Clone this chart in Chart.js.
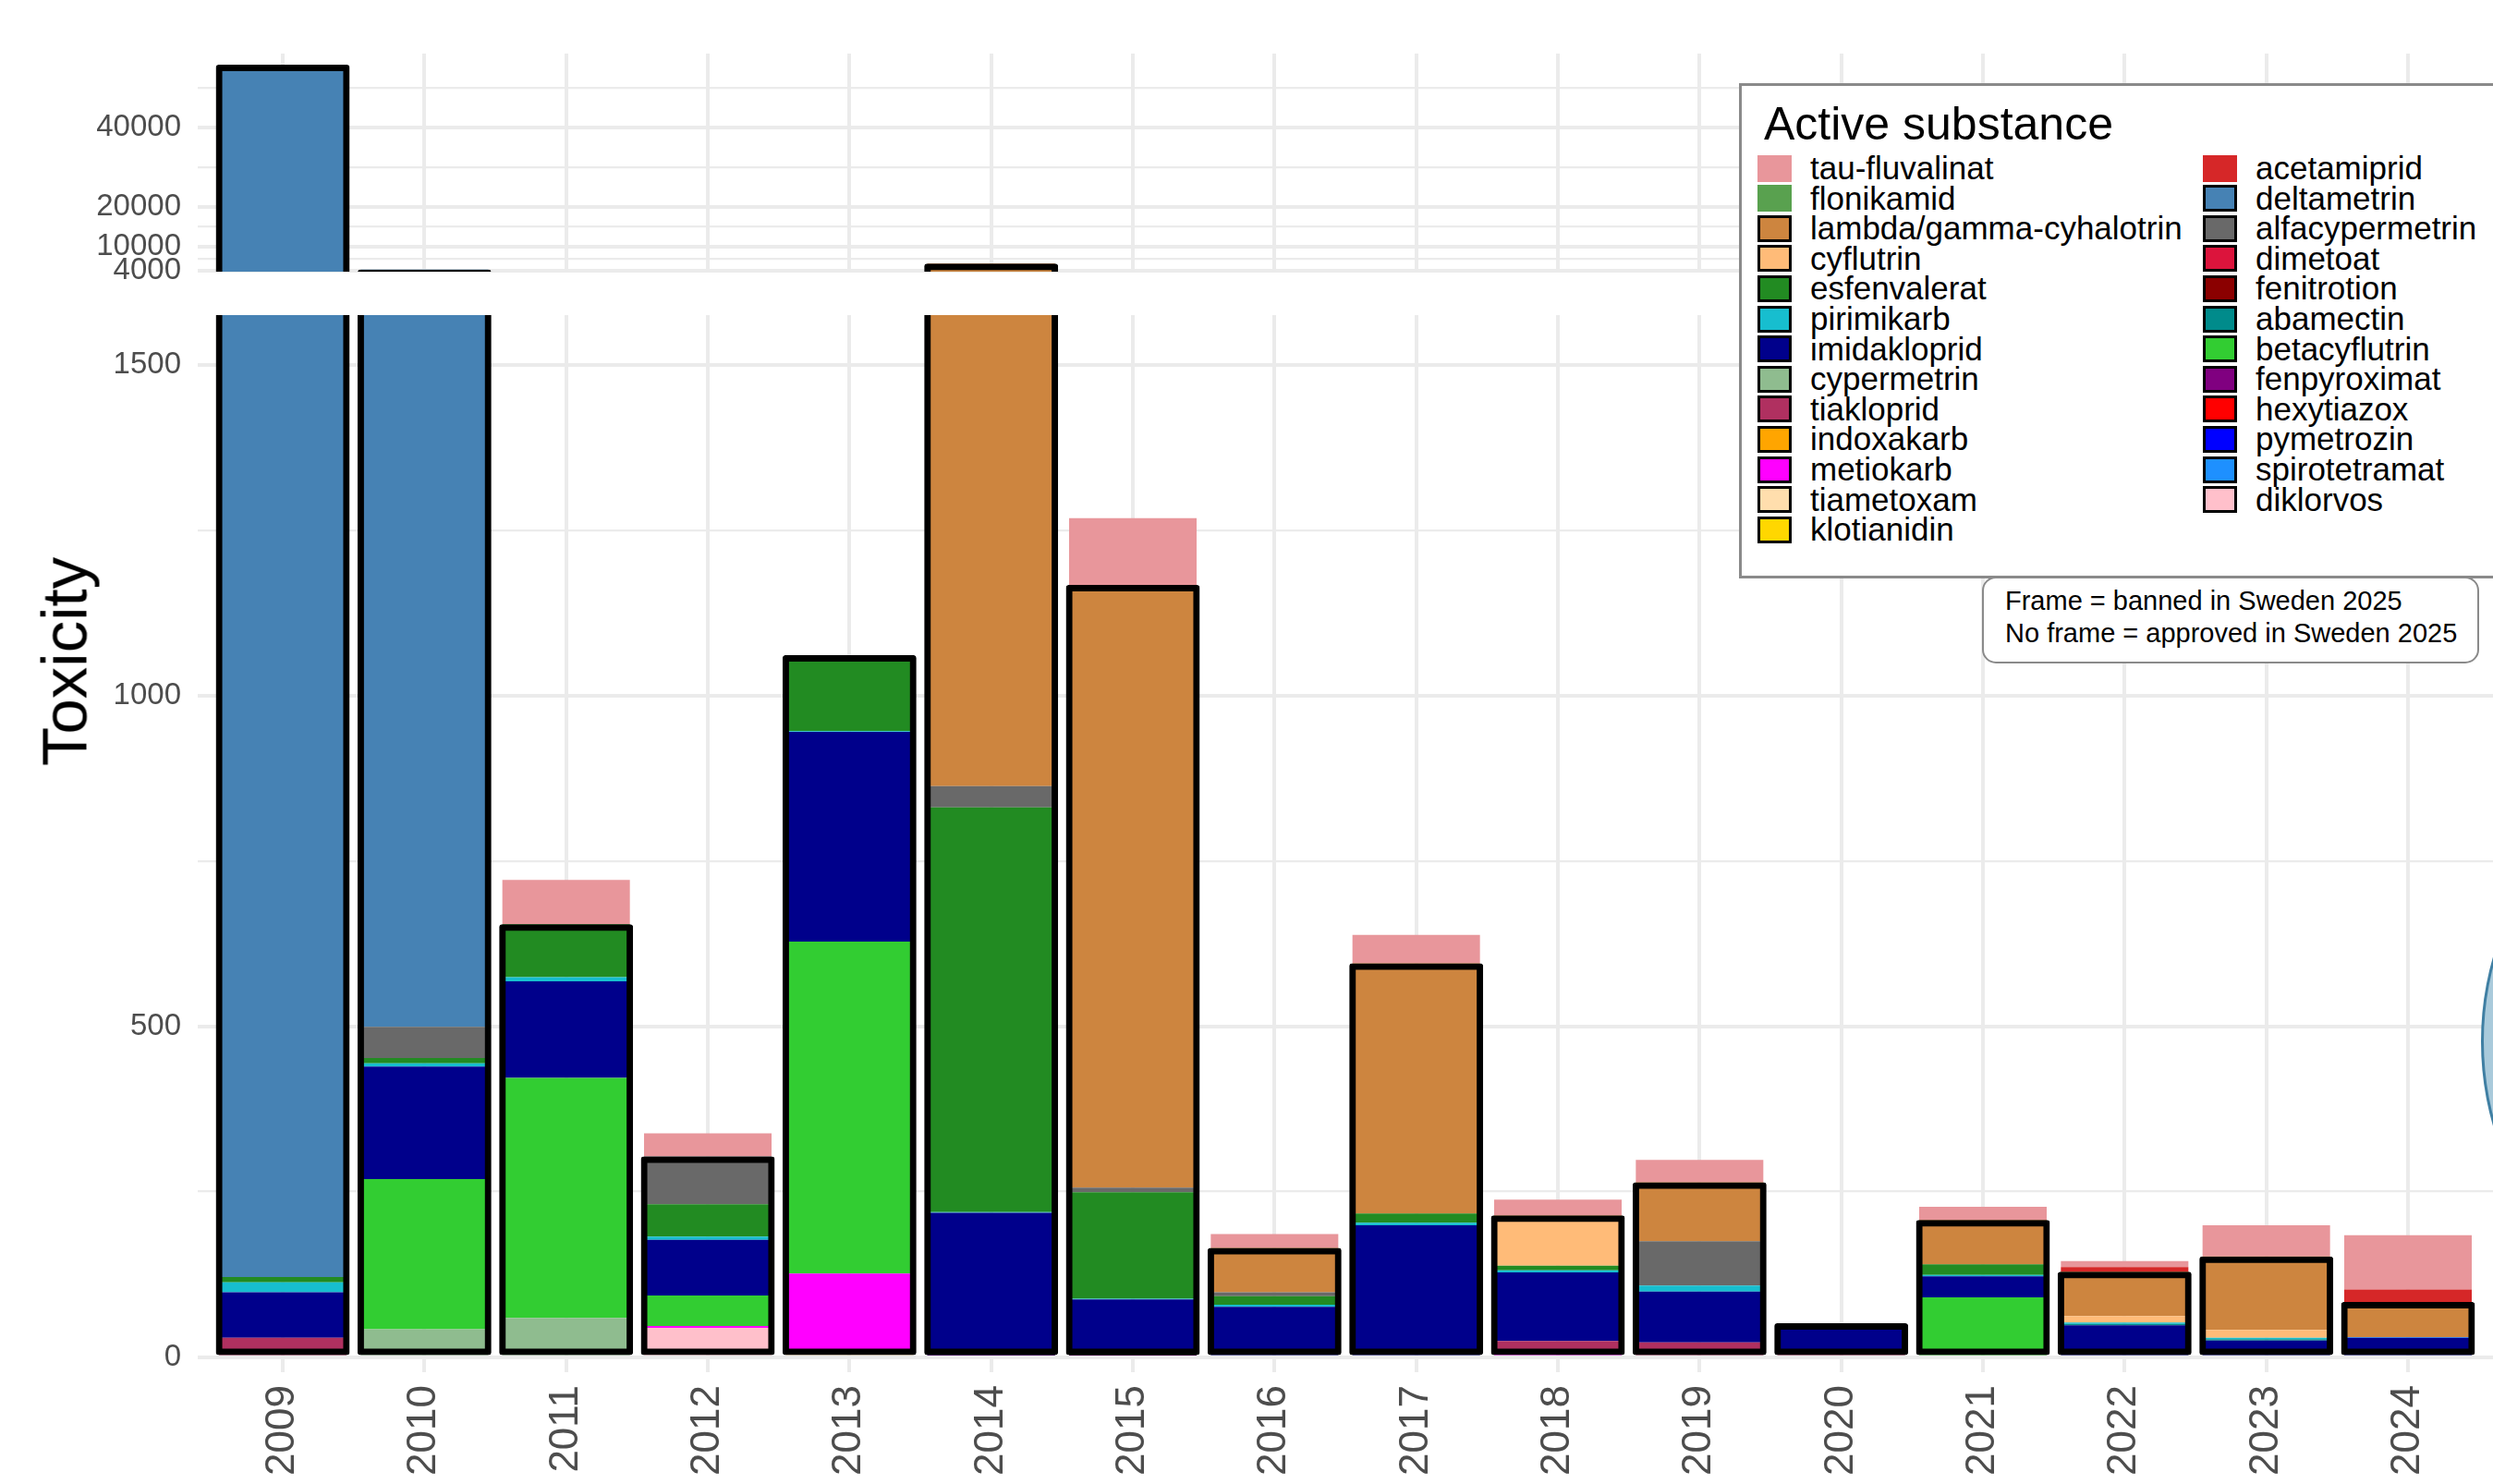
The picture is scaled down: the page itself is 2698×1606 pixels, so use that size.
<!DOCTYPE html>
<html>
<head>
<meta charset="utf-8">
<script src="https://cdn.jsdelivr.net/npm/chart.js@4.4.1/dist/chart.umd.min.js"></script>
<style>
  html, body { margin: 0; padding: 0; background: #fff; }
  body { width: 2698px; height: 1606px; position: relative; overflow: hidden; font-family: "Liberation Sans", Arial, sans-serif; }
  canvas { position: absolute; left: 0; }
  #topChart { top: 0; width: 2698px; height: 320px; }
  #bottomChart { top: 320px; width: 2698px; height: 1286px; }
  #yTitle { position: absolute; left: 70px; top: 716px; font-size: 69px; color: #000; white-space: nowrap;
            transform: translate(-50%, -50%) rotate(-90deg); }
  #legendBox { position: absolute; left: 1882px; top: 90px; width: 1000px; height: 530px; border: 3px solid #8a8a8a; background: #fff; }
  .legTitle { position: absolute; font-size: 50px; line-height: 50px; color: #000; white-space: nowrap; }
  .key { position: absolute; width: 37px; height: 29px; box-sizing: border-box; }
  .key.framed { border: 3px solid #000; }
  .keyText { position: absolute; font-size: 35px; line-height: 34px; color: #000; white-space: nowrap; }
  #note { position: absolute; left: 2145px; top: 624px; width: 538px; height: 94px; box-sizing: border-box;
          border: 2px solid #8a8a8a; border-radius: 15px; background: #fff; padding: 7px 0 0 23px;
          font-size: 29px; line-height: 35px; color: #000; white-space: nowrap; }
  #circle { position: absolute; left: 2685px; top: 798px; width: 658px; height: 658px; box-sizing: border-box;
            border-radius: 50%; border: 3px solid #3f7fa3; background: #a9cadb; }
</style>
</head>
<body>
<canvas id="topChart" width="2698" height="320"></canvas>
<canvas id="bottomChart" width="2698" height="1286"></canvas>
<div id="yTitle">Toxicity</div>
<div id="legendBox"></div>
<div id="note">Frame = banned in Sweden 2025<br>No frame = approved in Sweden 2025</div>
<div id="circle"></div>
<script>
const years = [2009, 2010, 2011, 2012, 2013, 2014, 2015, 2016, 2017, 2018, 2019, 2020, 2021, 2022, 2023, 2024];

// Banned in Sweden 2025 (inside the frame)
const diklorvos        = [0, 0, 0, 44, 0, 0, 0, 0, 0, 0, 0, 0, 0, 0, 0, 0];
const tiametoxam       = [0, 0, 0, 0, 9, 0, 0, 0, 0, 0, 0, 0, 0, 0, 0, 0];
const metiokarb        = [0, 0, 0, 3, 117, 0, 0, 0, 0, 12, 0, 0, 0, 0, 0, 0];
const cypermetrin      = [0, 42, 59, 0, 0, 0, 0, 0, 0, 0, 0, 0, 0, 0, 0, 0];
const tiakloprid       = [29, 0, 0, 0, 0, 2, 0, 0, 0, 12, 22, 8, 0, 0, 0, 0];
const fenitrotion      = [0, 0, 0, 0, 0, 0, 2, 0, 0, 0, 0, 0, 0, 0, 0, 0];
const betacyflutrin    = [0, 227, 363, 46, 502, 0, 0, 0, 0, 0, 0, 0, 90, 0, 0, 0];
const imidakloprid     = [69, 170, 146, 84, 317, 216, 85, 76, 199, 104, 77, 43, 32, 48, 25, 29];
const abamectin        = [0, 0, 0, 0, 0, 0, 0, 0, 0, 0, 0, 0, 0, 2, 2, 0];
const pirimikarb       = [15, 5, 6, 5, 1, 1, 1, 3, 4, 3, 9, 0, 2, 2, 2, 0];
const spirotetramat    = [0, 0, 0, 0, 0, 0, 0, 0, 0, 0, 0, 0, 0, 0, 0, 1];
const esfenvalerat     = [8, 8, 80, 49, 115, 612, 161, 13, 14, 7, 0, 0, 16, 0, 0, 0];
const cyflutrin        = [0, 0, 0, 0, 0, 0, 0, 0, 0, 76, 0, 0, 0, 10, 12, 0];
const alfacypermetrin  = [0, 47, 0, 72, 0, 32, 7, 6, 0, 0, 67, 0, 0, 0, 0, 0];
const deltametrin      = [55580, 3700, 0, 0, 0, 0, 0, 0, 0, 0, 0, 0, 0, 0, 0, 0];
const lambdaCyhalotrin = [0, 0, 0, 0, 0, 4840, 911, 67, 378, 0, 89, 0, 67, 67, 111, 53];
const indoxakarb       = [0, 0, 0, 0, 0, 0, 0, 0, 0, 0, 0, 0, 0, 0, 0, 0];
const klotianidin      = [0, 0, 0, 0, 0, 0, 0, 0, 0, 0, 0, 0, 0, 0, 0, 0];
const dimetoat         = [0, 0, 0, 0, 0, 0, 0, 0, 0, 0, 0, 0, 0, 0, 0, 0];
const fenpyroximat     = [0, 0, 0, 0, 0, 0, 0, 0, 0, 0, 0, 0, 0, 0, 0, 0];
const hexytiazox       = [0, 0, 0, 0, 0, 0, 0, 0, 0, 0, 0, 0, 0, 0, 0, 0];
const pymetrozin       = [0, 0, 0, 0, 0, 0, 0, 0, 0, 0, 0, 0, 0, 0, 0, 0];

// Approved in Sweden 2025 (stacked above the frame)
const flonikamid       = [0, 0, 0, 0, 0, 0, 0, 0, 0, 0, 0, 0, 0, 0, 0, 0];
const acetamiprid      = [0, 0, 0, 0, 0, 0, 0, 0, 0, 0, 0, 0, 0, 7, 0, 19];
const tauFluvalinat    = [0, 0, 67, 35, 0, 0, 101, 21, 43, 24, 34, 0, 20, 9, 47, 82];

// y axis ticks for the two panels of the broken axis
const topMajor = [4000, 10000, 20000, 40000];
const topMinor = [7000, 15000, 30000, 50000];
const bottomMajor = [0, 500, 1000, 1500];
const bottomMinor = [250, 750, 1250];

const banned = [
  ['diklorvos', diklorvos], ['tiametoxam', tiametoxam], ['metiokarb', metiokarb],
  ['cypermetrin', cypermetrin], ['tiakloprid', tiakloprid], ['fenitrotion', fenitrotion],
  ['betacyflutrin', betacyflutrin], ['imidakloprid', imidakloprid], ['abamectin', abamectin],
  ['pirimikarb', pirimikarb], ['spirotetramat', spirotetramat], ['esfenvalerat', esfenvalerat],
  ['cyflutrin', cyflutrin], ['alfacypermetrin', alfacypermetrin], ['deltametrin', deltametrin],
  ['lambda/gamma-cyhalotrin', lambdaCyhalotrin], ['indoxakarb', indoxakarb], ['klotianidin', klotianidin],
  ['dimetoat', dimetoat], ['fenpyroximat', fenpyroximat], ['hexytiazox', hexytiazox], ['pymetrozin', pymetrozin]
];
const approved = [
  ['flonikamid', flonikamid], ['acetamiprid', acetamiprid], ['tau-fluvalinat', tauFluvalinat]
];

const colours = {
  'tau-fluvalinat': '#E8969B',
  'flonikamid': '#59A14F',
  'lambda/gamma-cyhalotrin': '#CD853F',
  'cyflutrin': '#FFBB78',
  'esfenvalerat': '#228B22',
  'pirimikarb': '#17BECF',
  'imidakloprid': '#00008B',
  'cypermetrin': '#8FBC8F',
  'tiakloprid': '#B03060',
  'indoxakarb': '#FFA500',
  'metiokarb': '#FF00FF',
  'tiametoxam': '#FFDEAD',
  'klotianidin': '#FFD700',
  'acetamiprid': '#D62728',
  'deltametrin': '#4682B4',
  'alfacypermetrin': '#696969',
  'dimetoat': '#DC143C',
  'fenitrotion': '#8B0000',
  'abamectin': '#008B8B',
  'betacyflutrin': '#32CD32',
  'fenpyroximat': '#800080',
  'hexytiazox': '#FF0000',
  'pymetrozin': '#0000FF',
  'spirotetramat': '#1E90FF',
  'diklorvos': '#FFC0CB'
};

const legendLeft = ['tau-fluvalinat', 'flonikamid', 'lambda/gamma-cyhalotrin', 'cyflutrin', 'esfenvalerat',
  'pirimikarb', 'imidakloprid', 'cypermetrin', 'tiakloprid', 'indoxakarb', 'metiokarb', 'tiametoxam', 'klotianidin'];
const legendRight = ['acetamiprid', 'deltametrin', 'alfacypermetrin', 'dimetoat', 'fenitrotion', 'abamectin',
  'betacyflutrin', 'fenpyroximat', 'hexytiazox', 'pymetrozin', 'spirotetramat', 'diklorvos'];

const gridColour = '#EBEBEB';
const tickColour = '#4D4D4D';
const fontFamily = '"Liberation Sans", Arial, sans-serif';

// total of the banned substances per year -> height of the black frame
const bannedTotal = years.map((y, i) => banned.reduce((sum, s) => sum + s[1][i], 0));

function buildDatasets() {
  const sets = banned.concat(approved).map(([name, values]) => ({
    label: name,
    data: values,
    backgroundColor: colours[name],
    borderWidth: 0,
    grouped: false,
    categoryPercentage: 0.9,
    barPercentage: 1,
    clip: 0
  }));
  sets.push({
    label: 'frame',
    data: bannedTotal,
    stack: 'frame',
    order: -1,
    backgroundColor: 'rgba(0,0,0,0)',
    borderColor: '#000000',
    borderWidth: 7,
    borderSkipped: false,
    borderRadius: 3,
    grouped: false,
    categoryPercentage: 1,
    barPercentage: 0.945,
    clip: 0
  });
  return sets;
}

function xAxis(showLabels, height) {
  return {
    type: 'linear',
    min: 2008.4,
    max: 2024.6,
    offset: false,
    grid: { color: gridColour, lineWidth: 4, drawTicks: false, offset: false },
    border: { display: false },
    ticks: {
      display: showLabels,
      autoSkip: false,
      minRotation: 90,
      maxRotation: 90,
      padding: 14,
      color: tickColour,
      font: { family: fontFamily, size: 44 },
      callback: v => String(v)
    },
    afterBuildTicks: axis => { axis.ticks = years.map(v => ({ value: v })); },
    afterFit: axis => {
      axis.height = height;
      axis.paddingLeft = 0;
      axis.paddingRight = 0;
    }
  };
}

function yAxis(min, max, major, minor) {
  return {
    stacked: true,
    min: min,
    max: max,
    grid: {
      color: gridColour,
      drawTicks: false,
      lineWidth: ctx => (ctx.tick && major.includes(ctx.tick.value)) ? 4 : 2.2
    },
    border: { display: false },
    ticks: {
      autoSkip: false,
      padding: 18,
      color: tickColour,
      font: { family: fontFamily, size: 33 },
      callback: v => major.includes(v) ? String(v) : ''
    },
    afterBuildTicks: axis => {
      axis.ticks = major.concat(minor).sort((a, b) => a - b).map(v => ({ value: v }));
    },
    afterFit: axis => {
      axis.width = 214;
      axis.paddingTop = 0;
      axis.paddingBottom = 0;
    }
  };
}

function baseOptions(padding, x, y) {
  return {
    responsive: false,
    animation: false,
    devicePixelRatio: 1,
    layout: { padding: padding },
    plugins: { legend: { display: false }, tooltip: { enabled: false } },
    scales: { x: x, y: y }
  };
}

// upper panel: the very large values
new Chart(document.getElementById('topChart').getContext('2d'), {
  type: 'bar',
  data: { labels: years, datasets: buildDatasets() },
  options: baseOptions({ top: 58, bottom: 26, left: 0, right: 0 },
    xAxis(false, 0), yAxis(3700, 58500, topMajor, topMinor))
});

// lower panel: 0 - 1575
new Chart(document.getElementById('bottomChart').getContext('2d'), {
  type: 'bar',
  data: { labels: years, datasets: buildDatasets() },
  options: baseOptions({ top: 21, bottom: 0, left: 0, right: 0 },
    xAxis(true, 121), yAxis(-23, 1575, bottomMajor, bottomMinor))
});

// legend (two columns, same order as the original)
function addDiv(cls, left, top, text) {
  const d = document.createElement('div');
  d.className = cls;
  d.style.left = left + 'px';
  d.style.top = top + 'px';
  if (text) d.textContent = text;
  document.body.appendChild(d);
  return d;
}

addDiv('legTitle', 1909, 109, 'Active substance');
const approvedNames = approved.map(a => a[0]);
function legendColumn(names, keyLeft, textLeft) {
  names.forEach((name, r) => {
    const cy = 182 + 32.6 * r;
    const key = addDiv('key' + (approvedNames.includes(name) ? '' : ' framed'), keyLeft, cy - 14.5);
    key.style.background = colours[name];
    addDiv('keyText', textLeft, cy - 17, name);
  });
}
legendColumn(legendLeft, 1902, 1959);
legendColumn(legendRight, 2384, 2441);
</script>
</body>
</html>
